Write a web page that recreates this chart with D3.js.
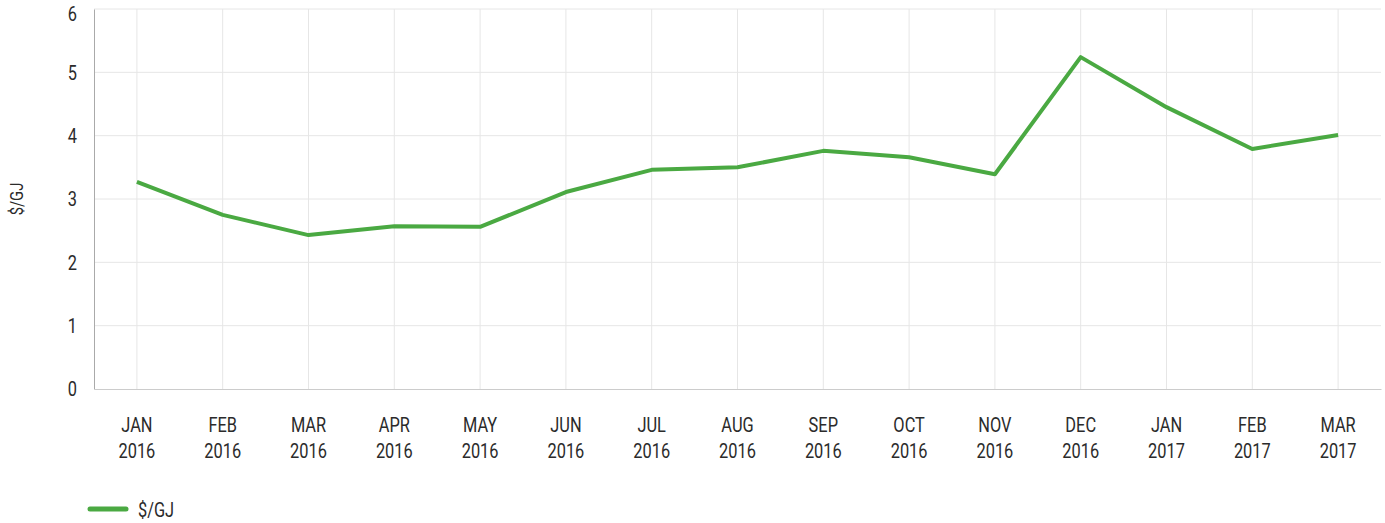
<!DOCTYPE html>
<html>
<head>
<meta charset="utf-8">
<script src="https://cdn.jsdelivr.net/npm/d3@7"></script>
<style>
    body { margin: 0; background: #fff; }
    text { font-family: Roboto, "DejaVu Sans", sans-serif; fill: #2b2b2b; }
</style>
</head>
<body>
<div id="chart"></div>
<script>
const months = ['JAN', 'FEB', 'MAR', 'APR', 'MAY', 'JUN', 'JUL', 'AUG', 'SEP', 'OCT', 'NOV', 'DEC', 'JAN', 'FEB', 'MAR'];
const years = ['2016', '2016', '2016', '2016', '2016', '2016', '2016', '2016', '2016', '2016', '2016', '2016', '2017', '2017', '2017'];
const price = [3.27, 2.75, 2.43, 2.57, 2.56, 3.11, 3.46, 3.5, 3.76, 3.66, 3.39, 5.24, 4.45, 3.79, 4.01];
const yTicks = [0, 1, 2, 3, 4, 5, 6];
const seriesName = '$/GJ';

const width = 1385, height = 523;
const margin = { top: 9, right: 4, bottom: 134, left: 94 };
const lineColor = '#4aa942';
const squeeze = 0.78;   // 模拟窄体字
const fontSize = 21;

const svg = d3.select('#chart').append('svg')
    .attr('width', width)
    .attr('height', height);

const keys = months.map((m, i) => i);

const x = d3.scaleBand()
    .domain(keys)
    .range([margin.left, width - margin.right]);

const y = d3.scaleLinear()
    .domain([0, 6])
    .range([height - margin.bottom, margin.top]);

// 网格线
svg.append('g')
    .selectAll('line')
    .data(yTicks.slice(1))
    .join('line')
    .attr('x1', margin.left)
    .attr('x2', width - margin.right)
    .attr('y1', d => y(d))
    .attr('y2', d => y(d))
    .attr('stroke', '#e6e6e6')
    .attr('stroke-width', 1);

svg.append('g')
    .selectAll('line')
    .data(keys)
    .join('line')
    .attr('x1', d => x(d) + x.bandwidth() / 2)
    .attr('x2', d => x(d) + x.bandwidth() / 2)
    .attr('y1', margin.top)
    .attr('y2', y(0))
    .attr('stroke', '#e6e6e6')
    .attr('stroke-width', 1);

// y轴
const yMax = d3.max(yTicks);
svg.append('g')
    .attr('transform', `translate(${margin.left},0)`)
    .call(d3.axisLeft(y).tickValues(yTicks).tickFormat(d3.format('d')).tickSize(0).tickPadding(22))
    .call(g => {
        g.select('.domain').attr('stroke', '#aaa');
        g.selectAll('.tick text')
            .attr('font-size', fontSize)
            .attr('font-family', null)
            .attr('transform', `scale(${squeeze},1)`)
            // 顶部标签下移，避免被裁切
            .attr('y', d => d === yMax ? 5 : 0);
    });

// x轴
svg.append('g')
    .attr('transform', `translate(0,${y(0)})`)
    .call(d3.axisBottom(x).tickSize(0).tickFormat(() => ''))
    .call(g => {
        g.select('.domain').attr('stroke', '#ccc');
        g.selectAll('.tick text').remove();
        g.selectAll('.tick').append('text')
            .attr('text-anchor', 'middle')
            .attr('font-size', fontSize)
            .attr('transform', `scale(${squeeze},1)`)
            .call(t => t.append('tspan').attr('x', 0).attr('y', 43).text(d => months[d]))
            .call(t => t.append('tspan').attr('x', 0).attr('y', 69).text(d => years[d]));
    });

svg.append('text')
    .attr('transform', `translate(23,${(margin.top + y(0)) / 2}) rotate(-90) scale(${squeeze},1)`)
    .attr('text-anchor', 'middle')
    .attr('font-size', 19)
    .text(seriesName);

const line = d3.line()
    .x((d, i) => x(i) + x.bandwidth() / 2)
    .y(d => y(d));

svg.append('path')
    .datum(price)
    .attr('fill', 'none')
    .attr('stroke', lineColor)
    .attr('stroke-width', 4)
    .attr('stroke-linejoin', 'round')
    .attr('d', line);

// 图例
const legend = svg.append('g').attr('transform', 'translate(90,509)');
legend.append('line')
    .attr('x1', 0).attr('x2', 36)
    .attr('stroke', lineColor)
    .attr('stroke-width', 5)
    .attr('stroke-linecap', 'round');
legend.append('text')
    .attr('x', 48 / squeeze)
    .attr('y', 8)
    .attr('font-size', fontSize)
    .attr('transform', `scale(${squeeze},1)`)
    .text(seriesName);
</script>
</body>
</html>
